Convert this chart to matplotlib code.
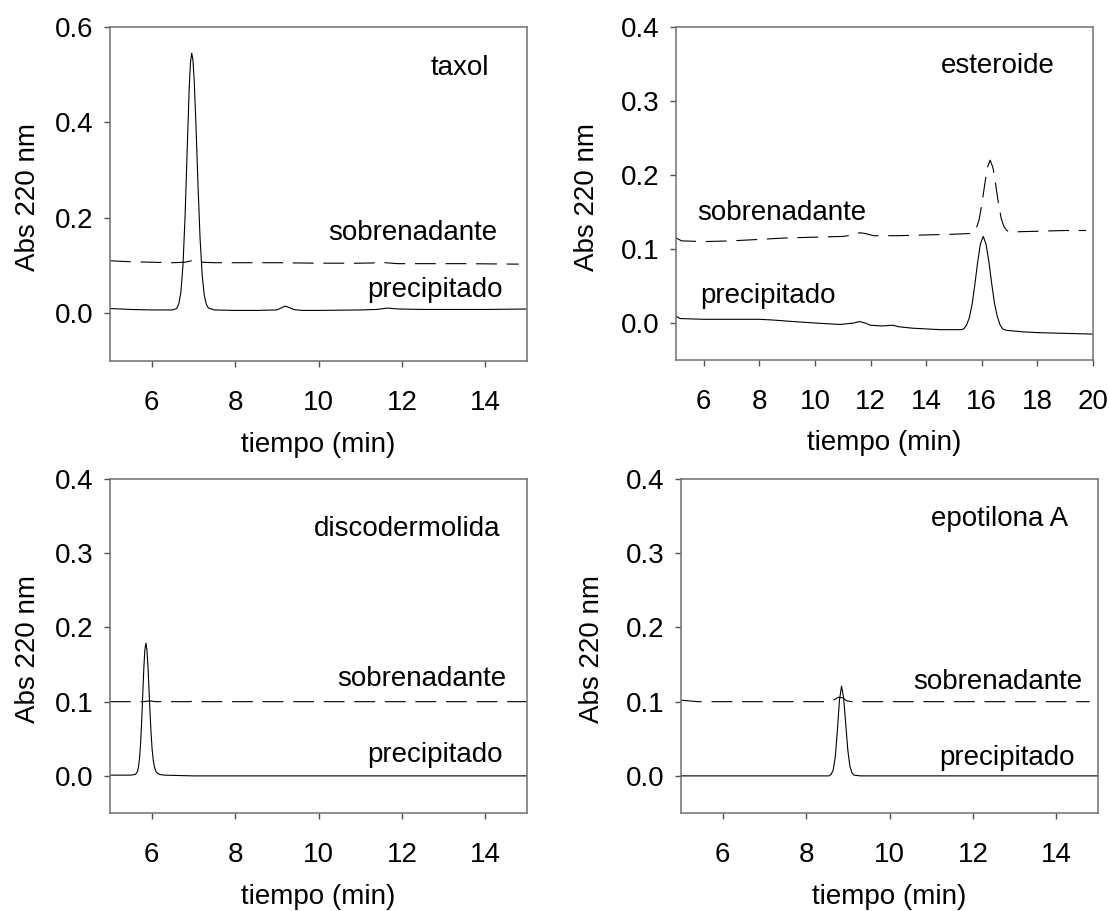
import matplotlib

matplotlib.use("Agg")
import matplotlib.pyplot as plt

# --- data (time in min, absorbance at 220 nm) ---
taxol_prec_t = [5.0, 5.5, 6.0, 6.5, 6.6, 6.65, 6.7, 6.75, 6.8, 6.85, 6.9, 6.93, 6.96,
                6.99, 7.02, 7.06, 7.11, 7.16, 7.21, 7.26, 7.31, 7.36, 7.5, 8.0, 8.5,
                9.0, 9.1, 9.2, 9.3, 9.4, 9.6, 10.0, 11.0, 11.4, 11.65, 11.9, 12.5,
                13.0, 14.0, 15.0]
taxol_prec_a = [0.010, 0.008, 0.007, 0.007, 0.010, 0.020, 0.044, 0.101, 0.202, 0.340,
                0.473, 0.526, 0.545, 0.530, 0.486, 0.398, 0.269, 0.157, 0.081, 0.038,
                0.019, 0.011, 0.007, 0.006, 0.006, 0.007, 0.011, 0.015, 0.012, 0.008,
                0.006, 0.006, 0.007, 0.008, 0.011, 0.009, 0.008, 0.008, 0.008, 0.009]
taxol_sob_t = [5.0, 5.5, 6.0, 6.5, 6.8, 6.95, 7.05, 7.2, 7.5, 8.0, 9.0, 10.0, 11.0,
               11.6, 11.9, 12.5, 13.5, 14.8]
taxol_sob_a = [0.110, 0.108, 0.107, 0.106, 0.107, 0.110, 0.111, 0.107, 0.106, 0.106,
               0.106, 0.105, 0.105, 0.106, 0.104, 0.104, 0.104, 0.103]

est_prec_t = [5.0, 5.15, 6.0, 7.0, 8.0, 8.5, 9.2, 10.0, 10.9, 11.4, 11.6, 11.8, 12.0,
              12.4, 12.8, 13.0, 13.5, 14.0, 14.5, 15.0, 15.25, 15.35, 15.45, 15.55,
              15.65, 15.75, 15.85, 15.95, 16.05, 16.15, 16.25, 16.35, 16.45, 16.55,
              16.65, 16.75, 16.9, 17.5, 18.0, 19.0, 20.0]
est_prec_a = [0.009, 0.006, 0.005, 0.005, 0.005, 0.004, 0.002, 0.000, -0.002, 0.000,
              0.002, 0.000, -0.003, -0.004, -0.003, -0.005, -0.007, -0.008, -0.009,
              -0.009, -0.009, -0.008, -0.003, 0.007, 0.025, 0.052, 0.082, 0.107, 0.117,
              0.107, 0.084, 0.055, 0.028, 0.010, -0.002, -0.008, -0.010, -0.012,
              -0.013, -0.014, -0.015]
est_sob_t = [5.0, 5.2, 6.0, 7.0, 8.0, 9.0, 10.0, 11.0, 11.4, 11.6, 11.8, 12.1, 13.0,
             14.0, 15.0, 15.6, 15.7, 15.8, 15.9, 16.0, 16.1, 16.2, 16.3, 16.4, 16.5,
             16.6, 16.7, 16.8, 16.9, 17.0, 18.0, 19.0, 19.75]
est_sob_a = [0.115, 0.111, 0.110, 0.111, 0.113, 0.115, 0.116, 0.117, 0.119, 0.122,
             0.121, 0.118, 0.118, 0.119, 0.120, 0.121, 0.122, 0.128, 0.139, 0.160,
             0.186, 0.210, 0.220, 0.210, 0.187, 0.161, 0.141, 0.130, 0.125, 0.123,
             0.124, 0.125, 0.125]

disco_prec_t = [5.0, 5.5, 5.61, 5.66, 5.685, 5.71, 5.735, 5.76, 5.785, 5.81, 5.835,
                5.86, 5.885, 5.91, 5.935, 5.96, 5.985, 6.01, 6.04, 6.07, 6.11, 6.18,
                6.3, 7.0, 8.0, 10.0, 12.0, 15.0]
disco_prec_a = [0.001, 0.001, 0.002, 0.006, 0.013, 0.025, 0.045, 0.074, 0.109, 0.144,
                0.169, 0.179, 0.170, 0.148, 0.117, 0.085, 0.058, 0.036, 0.020, 0.011,
                0.005, 0.002, 0.001, 0.000, 0.000, 0.000, 0.000, 0.000]
disco_sob_t = [5.0, 5.5, 5.8, 5.95, 6.1, 6.9, 7.05, 7.2, 9.0, 12.0, 15.0]
disco_sob_a = [0.100, 0.100, 0.100, 0.101, 0.100, 0.100, 0.101, 0.100, 0.100, 0.100,
               0.100]

epo_prec_t = [5.0, 7.0, 8.0, 8.55, 8.6, 8.65, 8.7, 8.75, 8.8, 8.85, 8.9, 8.95, 9.0,
              9.05, 9.1, 9.15, 9.3, 10.0, 12.0, 15.0]
epo_prec_a = [0.000, 0.000, 0.000, 0.000, 0.002, 0.008, 0.026, 0.061, 0.102, 0.121,
              0.105, 0.070, 0.035, 0.013, 0.004, 0.001, 0.000, 0.000, 0.000, 0.000]
epo_sob_t = [5.0, 5.4, 6.0, 7.0, 8.0, 8.5, 8.65, 8.78, 8.88, 8.98, 9.1, 10.0, 12.0, 14.8]
epo_sob_a = [0.102, 0.100, 0.100, 0.100, 0.100, 0.100, 0.102, 0.106, 0.105, 0.101,
             0.100, 0.100, 0.100, 0.100]

plt.rcParams["font.family"] = ["Liberation Sans", "DejaVu Sans"]
plt.rcParams["font.size"] = 20
plt.rcParams["lines.scale_dashes"] = False

fig = plt.figure(figsize=(11.09, 9.11), dpi=100)

W, H = 1109, 911


def make_axes(left, top, right, bottom):
    return fig.add_axes([left / W, 1 - bottom / H, (right - left) / W, (bottom - top) / H])


panels = [
    dict(box=(110, 27, 527, 361), xlim=(5, 15), ylim=(-0.1, 0.6),
         yticks=[0.0, 0.2, 0.4, 0.6], xticks=[6, 8, 10, 12, 14],
         prec=(taxol_prec_t, taxol_prec_a), sob=(taxol_sob_t, taxol_sob_a),
         name="taxol", name_xy=(13.4, 0.514),
         sob_xy=(12.27, 0.168), prec_xy=(12.8, 0.048), ylab_x=-0.197),
    dict(box=(676, 27, 1093, 360), xlim=(5, 20), ylim=(-0.05, 0.4),
         yticks=[0.0, 0.1, 0.2, 0.3, 0.4], xticks=[6, 8, 10, 12, 14, 16, 18, 20],
         prec=(est_prec_t, est_prec_a), sob=(est_sob_t, est_sob_a),
         name="esteroide", name_xy=(16.58, 0.347),
         sob_xy=(8.81, 0.149), prec_xy=(8.31, 0.036), ylab_x=-0.213),
    dict(box=(110, 479, 527, 813), xlim=(5, 15), ylim=(-0.05, 0.4),
         yticks=[0.0, 0.1, 0.2, 0.3, 0.4], xticks=[6, 8, 10, 12, 14],
         prec=(disco_prec_t, disco_prec_a), sob=(disco_sob_t, disco_sob_a),
         name="discodermolida", name_xy=(12.12, 0.332),
         sob_xy=(12.48, 0.130), prec_xy=(12.8, 0.028), ylab_x=-0.197),
    dict(box=(681, 479, 1098, 813), xlim=(5, 15), ylim=(-0.05, 0.4),
         yticks=[0.0, 0.1, 0.2, 0.3, 0.4], xticks=[6, 8, 10, 12, 14],
         prec=(epo_prec_t, epo_prec_a), sob=(epo_sob_t, epo_sob_a),
         name="epotilona A", name_xy=(12.65, 0.346),
         sob_xy=(12.6, 0.126), prec_xy=(12.82, 0.024), ylab_x=-0.213),
]

for p in panels:
    ax = make_axes(*p["box"])
    ax.plot(*p["sob"], color="black", linewidth=0.8, linestyle=(0, (15, 7)))
    ax.plot(*p["prec"], color="black", linewidth=0.8)
    ax.set_xlim(*p["xlim"])
    ax.set_ylim(*p["ylim"])
    ax.set_xticks(p["xticks"])
    ax.set_yticks(p["yticks"])
    ax.yaxis.set_major_formatter(matplotlib.ticker.FormatStrFormatter("%.1f"))
    ax.tick_params(direction="out", length=4, width=1, color="#505050")
    ax.tick_params(axis="x", pad=17)
    ax.tick_params(axis="y", pad=8)
    for s in ax.spines.values():
        s.set_color("#707070")
        s.set_linewidth(1.1)

    ax.set_xlabel("tiempo (min)")
    ax.xaxis.set_label_coords(0.5, -0.25)
    ax.xaxis.label.set_verticalalignment("center")
    ax.set_ylabel("Abs 220 nm")
    ax.yaxis.set_label_coords(p["ylab_x"], 0.49)
    ax.yaxis.label.set_verticalalignment("center")

    ax.text(*p["name_xy"], p["name"], ha="center", va="center")
    ax.text(*p["sob_xy"], "sobrenadante", ha="center", va="center")
    ax.text(*p["prec_xy"], "precipitado", ha="center", va="center")

fig.savefig("out.png", dpi=100)
